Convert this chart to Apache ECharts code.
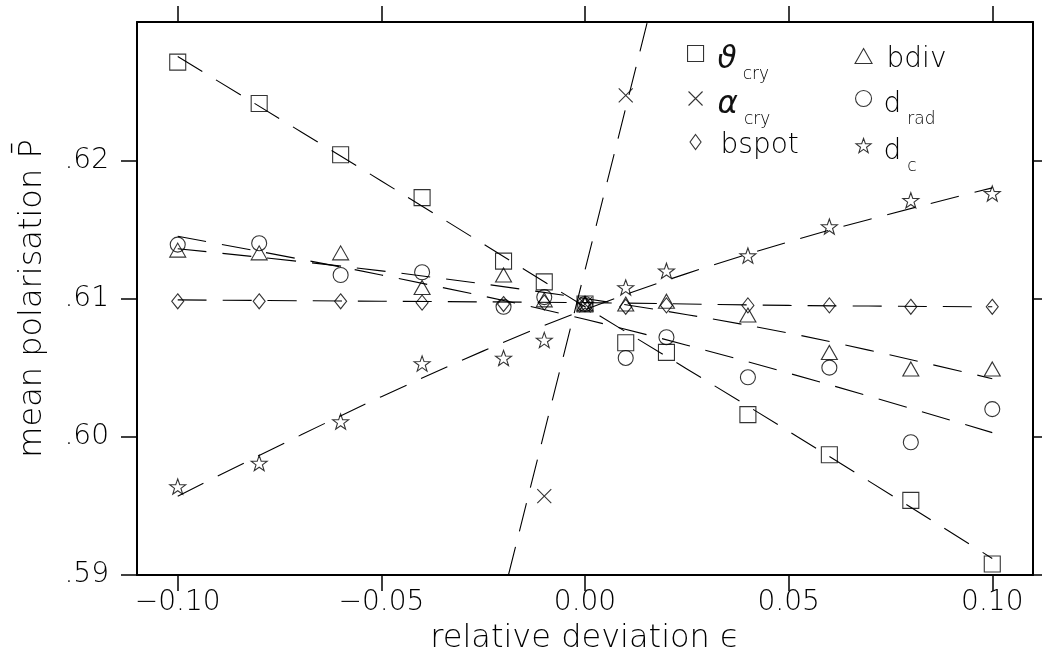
<!DOCTYPE html>
<html><head><meta charset="utf-8">
<script src="https://cdn.jsdelivr.net/npm/echarts@6/dist/echarts.min.js"></script>
<style>html,body{margin:0;padding:0;background:#fff}#c{width:1042px;height:662px}</style>
</head><body><div id="c"></div>
<script>
// ---- data ----
const epsilon   = [-0.10,-0.08,-0.06,-0.04,-0.02,-0.01,0,0.01,0.02,0.04,0.06,0.08,0.10];
const thetaCry  = [0.6271,0.6241,0.6204,0.6173,0.6127,0.6112,0.6096,0.6068,0.6061,0.6016,0.5987,0.5954,0.5908];
const bdiv      = [0.6135,0.6133,0.6133,0.6108,0.6117,0.6099,0.6096,0.6096,0.6098,0.6088,0.6061,0.6049,0.6049];
const dRad      = [0.6139,0.6140,0.6117,0.6119,0.6094,0.6101,0.6096,0.6057,0.6072,0.6043,0.6050,0.5996,0.6020];
const bspot     = [0.6098,0.6098,0.6098,0.6097,0.6096,0.6097,0.6096,0.6094,0.6095,0.6095,0.6095,0.6094,0.6094];
const dC        = [0.5964,0.5981,0.6011,0.6053,0.6057,0.6070,0.6096,0.6108,0.6120,0.6131,0.6152,0.6171,0.6176];
const alphaEps  = [-0.01,0,0.01];
const alphaCry  = [0.5957,0.6096,0.6247];

// fitted (dashed) curves, read at these epsilons
const fitEps      = [-0.10,-0.05,0,0.05,0.10];
const thetaFit    = [0.6275,0.6185,0.6094,0.6004,0.5912];
const bdivFit     = [0.6136,0.6120,0.6100,0.6075,0.6042];
const dRadFit     = [0.6145,0.6117,0.6085,0.6046,0.6003];
const bspotFit    = [0.6099,0.6098,0.6097,0.6095,0.6094];
const dCFit       = [0.5957,0.6029,0.6092,0.6141,0.6180];
const alphaFitEps = [-0.0188,0.0153];
const alphaFit    = [0.59,0.63];

const xTicks = [-0.10,-0.05,0,0.05,0.10];
const yTicks = [0.59,0.60,0.61,0.62];

// ---- chart ----
const FONT = 'DejaVu Sans';
const zip = (a,b) => a.map((v,i)=>[v,b[i]]);
const STAR = 'path://M50,0L61.76,33.82L97.55,34.55L69.02,56.18L79.39,90.45L50,70L20.61,90.45L30.98,56.18L2.45,34.55L38.24,33.82Z';
const CROSS = 'path://M0,0L10,10M10,0L0,10';
const hollow = {color:'transparent', borderColor:'#000', borderWidth:1.1};
const dash = {color:'#000', width:1.1, type:[29,16]};

const marks = [
  {name:'ϑcry',  data:zip(epsilon,thetaCry), symbol:'rect', size:16},
  {name:'αcry',  data:zip(alphaEps,alphaCry), symbol:CROSS, size:14},
  {name:'bspot', data:zip(epsilon,bspot), symbol:'diamond', size:[12,15]},
  {name:'bdiv',  data:zip(epsilon,bdiv), symbol:'triangle', size:[16,14]},
  {name:'drad',  data:zip(epsilon,dRad), symbol:'circle', size:15},
  {name:'dc',    data:zip(epsilon,dC), symbol:STAR, size:16}
];
const fits = [
  zip(fitEps,thetaFit), zip(alphaFitEps,alphaFit), zip(fitEps,bspotFit),
  zip(fitEps,bdivFit), zip(fitEps,dRadFit), zip(fitEps,dCFit)
];

const series = [];
fits.forEach((d,i)=>series.push({
  type:'line', name:'fit'+i, data:d, symbol:'none', showSymbol:false,
  smooth: i===1 ? false : 0.35, lineStyle:dash, silent:true, z:2, animation:false
}));
marks.forEach(m=>series.push({
  type:'scatter', name:m.name, data:m.data, symbol:m.symbol, symbolSize:m.size,
  symbolKeepAspect:true, itemStyle:hollow, silent:true, z:3, animation:false
}));

const labelRich = {
  'ϑcry':'{g|ϑ}{s|cry}', 'αcry':'{g|α}{s|cry}', 'bspot':'{m|bspot}',
  'bdiv':'{m|bdiv}', 'drad':'{m|d}{s|rad}', 'dc':'{m|d}{s|c}'
};
const rich = {
  g:{fontFamily:FONT, fontStyle:'italic', fontWeight:200, fontSize:31, lineHeight:48, color:'#111'},
  m:{fontFamily:FONT, fontSize:28, lineHeight:48, color:'#000', fontWeight:200},
  s:{fontFamily:FONT, fontSize:17, lineHeight:48, padding:[30,0,0,6], color:'#000', fontWeight:200}
};
// legend layout: [name, icon, iconW, iconH, symbolCenterX, symbolCenterY, textX, hasSub]
const legLayout = [
  ['ϑcry','rect',16,16,695,55,717,true],
  ['αcry',CROSS,14,14,695,100,717,true],
  ['bspot','diamond',11,15,695,142,720,false],
  ['bdiv','triangle',17,15,863,56,886,false],
  ['drad','circle',16,16,863,100,883,true],
  ['dc',STAR,15,15,863,147,883,true]
];
const legends = legLayout.map(([n,icon,w,h,cx,cy,tx,sub])=>{
  const d = sub ? 6 : 4;
  return {
    data:[{name:n, icon:icon}], left:cx-w/2, top: sub ? cy-19 : cy-10, padding:0,
    itemWidth:w, itemHeight:h, selectedMode:false,
    itemStyle:{color:'transparent', borderColor:'#000', borderWidth:1.1},
    formatter:name=>labelRich[name],
    textStyle:{rich:rich, padding:[2*d,0,0,tx-(cx-w/2)-w-5], color:'#000'}
  };
});

const axLine = {show:true, onZero:false, lineStyle:{color:'#000', width:2}};
const lab = {fontFamily:FONT, fontSize:28, color:'#000', fontWeight:200};
const tickStyle = {color:'#000', width:1.5};

const option = {
  backgroundColor:'#fff',
  animation:false,
  grid:{left:137, right:9, top:22, bottom:87, containLabel:false, outerBoundsMode:'none'},
  legend:legends,
  xAxis:[{
    type:'value', min:-0.11, max:0.11, position:'bottom',
    axisLine:axLine, splitLine:{show:false},
    axisTick:{show:true, length:16, lineStyle:tickStyle, customValues:xTicks},
    axisLabel:Object.assign({margin:14, customValues:xTicks,
      formatter:v=>(v<-1e-9?'\u2212':'')+Math.abs(v).toFixed(2)}, lab),
    name:'relative deviation \u03f5', nameLocation:'middle', nameGap:48,
    nameTextStyle:{fontFamily:FONT, fontSize:32, color:'#000', fontWeight:200}
  },{
    type:'value', min:-0.11, max:0.11, position:'top',
    axisLine:axLine, splitLine:{show:false}, axisLabel:{show:false},
    axisTick:{show:true, length:16, lineStyle:tickStyle, customValues:xTicks}
  }],
  yAxis:[{
    type:'value', min:0.59, max:0.63, position:'left',
    axisLine:axLine, splitLine:{show:false},
    axisTick:{show:true, length:16, lineStyle:tickStyle, customValues:yTicks},
    axisLabel:Object.assign({margin:28, customValues:yTicks,
      formatter:v=>v.toFixed(2).replace(/^0/,'')}, lab),
    name:'mean polarisation P\u0304', nameLocation:'middle', nameGap:88, nameRotate:90,
    nameTextStyle:{fontFamily:FONT, fontSize:32, color:'#000', fontWeight:200}
  },{
    type:'value', min:0.59, max:0.63, position:'right',
    axisLine:axLine, splitLine:{show:false}, axisLabel:{show:false},
    axisTick:{show:true, length:10, lineStyle:tickStyle, customValues:yTicks}
  }],
  series:series
};
const chart = echarts.init(document.getElementById('c'), null, {renderer:'canvas'});
chart.setOption(option);
</script>
</body></html>
